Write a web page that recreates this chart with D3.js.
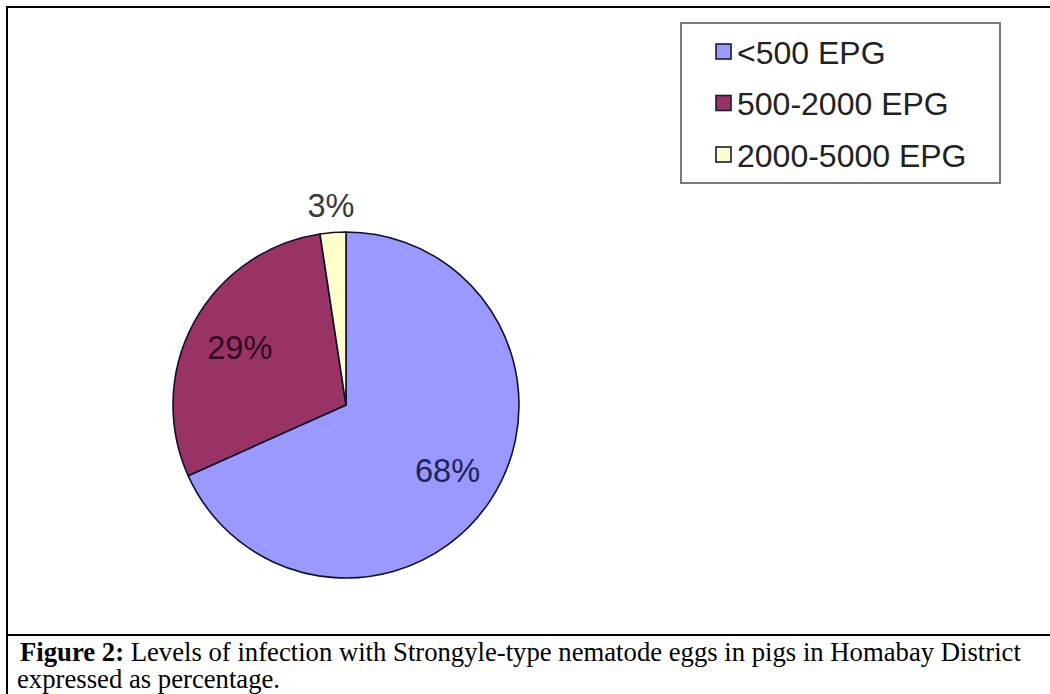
<!DOCTYPE html>
<html>
<head>
<meta charset="utf-8">
<script src="https://cdn.jsdelivr.net/npm/d3@7/dist/d3.min.js"></script>
<style>
  html, body { margin: 0; padding: 0; background: #fff; }
  svg { display: block; }
</style>
</head>
<body>
<svg id="chart" width="1050" height="694"></svg>
<script>
// ---- data ----
const categories = ["<500 EPG", "500-2000 EPG", "2000-5000 EPG"];
const values = [68.3, 29.3, 2.4];
const valueLabels = ["68%", "29%", "3%"];
const colors = ["#9999FF", "#993366", "#FFFFCC"];
const labelColors = ["#22225a", "#2e0a1c", "#3a3a3a"];
const captionBold = "Figure 2:";
const captionLine1 = " Levels of infection with Strongyle-type nematode eggs in pigs in Homabay District";
const captionLine2 = "expressed as percentage.";

const svg = d3.select("#chart");
const W = 1050, H = 694;

// ---- frame ----
svg.append("line").attr("x1", 7).attr("y1", 7).attr("x2", W).attr("y2", 7)
  .attr("stroke", "#000").attr("stroke-width", 2);
svg.append("line").attr("x1", 7).attr("y1", 6).attr("x2", 7).attr("y2", H)
  .attr("stroke", "#000").attr("stroke-width", 2);
svg.append("line").attr("x1", 7).attr("y1", 635).attr("x2", W).attr("y2", 635)
  .attr("stroke", "#000").attr("stroke-width", 2);

// ---- pie ----
const cx = 346, cy = 405, r = 173;
const pie = d3.pie().sort(null).value(d => d)(values);
const arc = d3.arc().innerRadius(0).outerRadius(r);
const g = svg.append("g").attr("transform", `translate(${cx},${cy})`);
g.selectAll("path.slice").data(pie).enter().append("path")
  .attr("class", "slice")
  .attr("d", arc)
  .attr("fill", (d, i) => colors[i])
  .attr("stroke", "#10102a")
  .attr("stroke-width", 1.6)
  .attr("stroke-linejoin", "round");

const inArc = d3.arc().innerRadius(121).outerRadius(121);
const outArc = d3.arc().innerRadius(r + 27).outerRadius(r + 27);
g.selectAll("text.lbl").data(pie).enter().append("text")
  .attr("class", "lbl")
  .attr("transform", d => {
    const c = (d.endAngle - d.startAngle) < 0.05 * 2 * Math.PI ? outArc.centroid(d) : inArc.centroid(d);
    return `translate(${c[0]},${c[1]})`;
  })
  .attr("text-anchor", "middle")
  .attr("dy", "0.36em")
  .attr("font-family", "Liberation Sans, Arial, sans-serif")
  .attr("font-size", 32.5)
  .attr("fill", (d, i) => labelColors[i])
  .text((d, i) => valueLabels[i]);

// ---- legend ----
const lg = svg.append("g");
lg.append("rect").attr("x", 681).attr("y", 23).attr("width", 319).attr("height", 160)
  .attr("fill", "#fff").attr("stroke", "#7a7a7a").attr("stroke-width", 2);
const ly = d3.scalePoint().domain(categories).range([52, 155]);
const items = lg.selectAll("g.item").data(categories).enter().append("g")
  .attr("class", "item")
  .attr("transform", d => `translate(0,${ly(d)})`);
items.append("rect").attr("x", 716).attr("y", -8).attr("width", 15).attr("height", 15)
  .attr("fill", (d, i) => colors[i]).attr("stroke", "#1a1a3a").attr("stroke-width", 1.6);
items.append("text").attr("x", 737).attr("dy", "0.36em")
  .attr("font-family", "Liberation Sans, Arial, sans-serif")
  .attr("font-size", 32).attr("fill", "#222")
  .text(d => d);

// ---- caption ----
const cap = svg.append("text").attr("x", 20).attr("y", 661)
  .attr("font-family", "Liberation Serif, Times New Roman, serif")
  .attr("font-size", 26.7).attr("fill", "#000");
cap.append("tspan").attr("font-weight", "bold").text(captionBold);
cap.append("tspan").text(captionLine1);
svg.append("text").attr("x", 17).attr("y", 688)
  .attr("font-family", "Liberation Serif, Times New Roman, serif")
  .attr("font-size", 26.7).attr("fill", "#000")
  .text(captionLine2);
</script>
</body>
</html>
